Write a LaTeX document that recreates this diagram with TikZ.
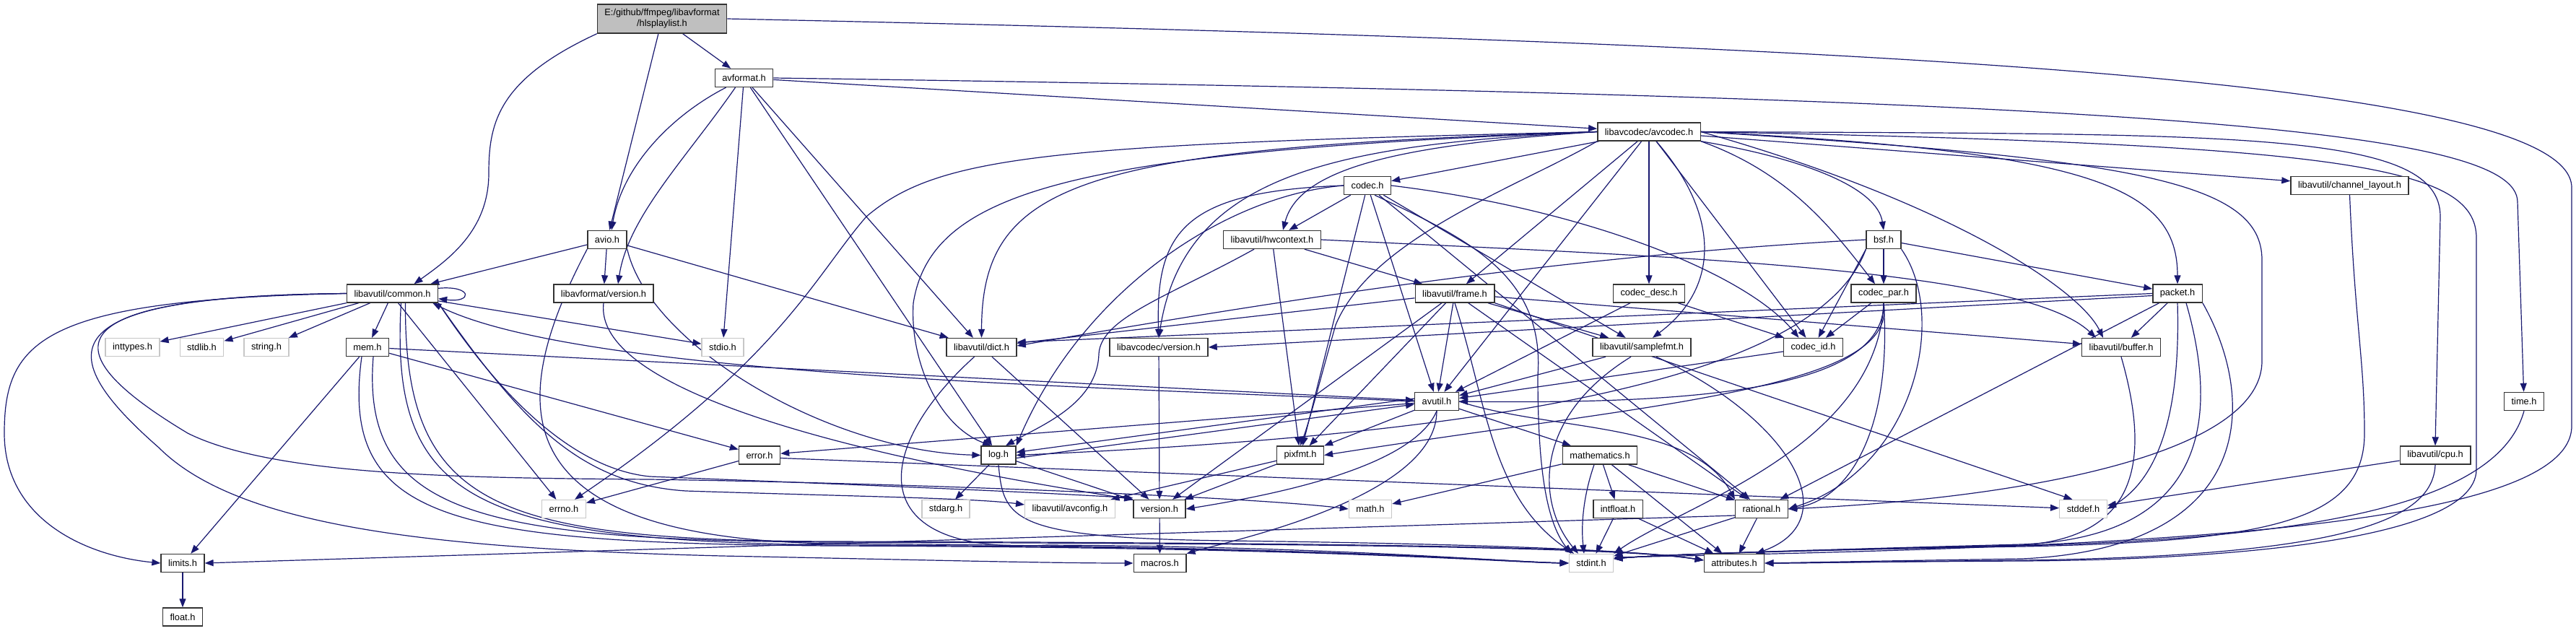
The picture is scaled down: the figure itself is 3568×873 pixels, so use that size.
\documentclass[tikz,border=0pt]{standalone}
\usepackage{fontspec}
\setmainfont{Liberation Sans}
\usetikzlibrary{arrows.meta}
\definecolor{edgec}{RGB}{25,25,112}
\definecolor{rootfill}{RGB}{191,191,191}
\pgfdeclarelayer{bg}
\pgfsetlayers{bg,main}
\begin{document}
\begin{tikzpicture}[x=1pt,y=1pt,
  box/.style={draw=black!80, line width=1.4pt, fill=white, inner xsep=10pt, inner ysep=0pt, minimum height=25pt, font=\fontsize{12.8}{15}\selectfont},
  sysbox/.style={box, draw=black!22},
  edg/.style={draw=edgec, line width=1.2pt, -{Triangle[length=12pt,width=9pt]}},
]
\useasboundingbox (0,0) rectangle (3568,-873);

\node[box, fill=rootfill, minimum height=40pt, align=center] (root) at (917,-26) {E:/github/ffmpeg/libavformat\\/hlsplaylist.h};
\node[box] (avformat) at (1030.5,-108) {avformat.h};
\node[box] (avcodec) at (2284,-182.5) {libavcodec/avcodec.h};
\node[box] (codec) at (1894,-257) {codec.h};
\node[box] (chlayout) at (3254.5,-257) {libavutil/channel\_layout.h};
\node[box] (avio) at (841,-332) {avio.h};
\node[box] (hwctx) at (1762,-332) {libavutil/hwcontext.h};
\node[box] (bsf) at (2609,-332) {bsf.h};
\node[box] (common) at (543.5,-406.5) {libavutil/common.h};
\node[box] (lavfver) at (836,-406.5) {libavformat/version.h};
\node[box] (frame) at (2015,-406.5) {libavutil/frame.h};
\node[box] (codecdesc) at (2284,-406.5) {codec\_desc.h};
\node[box] (codecpar) at (2609,-406.5) {codec\_par.h};
\node[box] (packet) at (3016,-406.5) {packet.h};
\node[sysbox] (inttypes) at (183.5,-481) {inttypes.h};
\node[sysbox] (stdlib) at (279.5,-481) {stdlib.h};
\node[sysbox] (string) at (369,-481) {string.h};
\node[box] (mem) at (509,-481) {mem.h};
\node[sysbox] (stdio) at (1001,-481) {stdio.h};
\node[box] (dict) at (1359.5,-481) {libavutil/dict.h};
\node[box] (lavcver) at (1605,-481) {libavcodec/version.h};
\node[box] (samplefmt) at (2274,-481) {libavutil/samplefmt.h};
\node[box] (codecid) at (2511.5,-481) {codec\_id.h};
\node[box] (buffer) at (2938,-481) {libavutil/buffer.h};
\node[box] (avutil) at (1990,-556) {avutil.h};
\node[box] (time) at (3496,-556) {time.h};
\node[box] (error) at (1052,-630.5) {error.h};
\node[box] (log) at (1383,-630.5) {log.h};
\node[box] (pixfmt) at (1801,-630.5) {pixfmt.h};
\node[box] (mathematics) at (2216,-630.5) {mathematics.h};
\node[box] (cpu) at (3373,-630.5) {libavutil/cpu.h};
\node[sysbox] (errno) at (781,-705) {errno.h};
\node[sysbox] (stdarg) at (1310,-705) {stdarg.h};
\node[sysbox] (avconfig) at (1482,-705) {libavutil/avconfig.h};
\node[box] (version) at (1606,-705) {version.h};
\node[sysbox] (math) at (1898,-705) {math.h};
\node[box] (intfloat) at (2241,-705) {intfloat.h};
\node[box] (rational) at (2440,-705) {rational.h};
\node[sysbox] (stddef) at (2885.5,-705) {stddef.h};
\node[box] (limits) at (253,-780) {limits.h};
\node[box] (macros) at (1606.5,-780) {macros.h};
\node[sysbox] (stdint) at (2204,-780) {stdint.h};
\node[box] (attributes) at (2402,-780) {attributes.h};
\node[box] (float) at (253,-854.5) {float.h};

\begin{pgfonlayer}{bg}
\fill[white] (0,0) rectangle (3568,-873);
% root
\draw[edg] (root) -- (avformat);
\draw[edg] (root) -- (avio);
\draw[edg] (root.south west) .. controls (690,-110) and (677,-170) .. (677,-240) .. controls (677,-320) and (620,-360) .. ([xshift=30pt]common.north);
\draw[edg] (root.east) .. controls (2600,-60) and (3562,-110) .. (3562,-260) -- (3562,-590) .. controls (3562,-740) and (2900,-758) .. ([yshift=8pt]stdint.east);
% avformat
\draw[edg] (avformat) -- (avcodec);
\draw[edg] (avformat.east) .. controls (3000,-135) and (3487,-180) .. (3487,-280) -- (time);
\draw[edg] ([xshift=-25pt]avformat.south) .. controls (930,-160) and (862,-230) .. ([xshift=6pt]avio.north);
\draw[edg] ([xshift=-12pt]avformat.south) .. controls (950,-220) and (870,-300) .. ([xshift=20pt]lavfver.north);
\draw[edg] (avformat) -- (stdio);
\draw[edg] (avformat) -- (dict);
\draw[edg] (avformat) -- (log);
% avio
\draw[edg] (avio) -- (common);
\draw[edg] (avio) -- (lavfver);
\draw[edg] (avio) -- (dict);
\draw[edg] (avio.south east) .. controls (900,-480) and (1150,-625) .. (log.west);
\draw[edg] (avio.south west) .. controls (700,-560) and (690,-745) .. (1150,-753) .. controls (1850,-757) and (2080,-778) .. (stdint.west);
% lavf version
\draw[edg] (lavfver.south) .. controls (820,-560) and (1300,-650) .. (version.north west);
% common
\draw[edg] (common) -- (inttypes);
\draw[edg] (common) -- (stdlib);
\draw[edg] (common) -- (string);
\draw[edg] (common) -- (mem);
\draw[edg] (common) -- (stdio);
\draw[edg] ([xshift=8pt]common.south) -- (errno);
\draw[edg] (common.west) .. controls (60,-415) and (6,-470) .. (6,-600) .. controls (6,-720) and (120,-770) .. (limits.west);
\draw[edg] (common.west) .. controls (80,-410) and (60,-480) .. (220,-620) .. controls (330,-730) and (600,-760) .. (1000,-770) .. controls (1300,-776) and (1450,-780) .. (macros.west);
\draw[edg] (common.west) .. controls (80,-410) and (60,-480) .. (260,-600) .. controls (380,-660) and (650,-662) .. (900,-664) .. controls (1300,-670) and (1750,-690) .. (math.west);
\draw[edg] ([xshift=12pt]common.south) .. controls (540,-690) and (650,-748) .. (1150,-755) .. controls (1850,-757) and (2080,-778) .. (stdint.west);
\draw[edg] ([xshift=18pt]common.south) .. controls (560,-700) and (680,-748) .. (1150,-750) .. controls (1900,-752) and (2250,-758) .. ([yshift=4pt]attributes.west);
\draw[edg] (common.south east) .. controls (700,-560) and (800,-650) .. (900,-660) .. controls (1200,-672) and (1400,-680) .. ([yshift=2pt]version.north west);
\draw[edg] (common.south east) .. controls (720,-580) and (800,-670) .. (950,-680) .. controls (1200,-688) and (1350,-690) .. ([yshift=6pt]avconfig.west);
\draw[edg] ([yshift=-6pt]common.north east) .. controls (655,-395) and (655,-420) .. ([yshift=6pt]common.south east);
% mem
\draw[edg] (mem) -- (limits);
\draw[edg] (mem) -- (error);
\draw[edg] (mem) -- (avutil);
\draw[edg] ([xshift=-8pt]mem.south) .. controls (470,-720) and (620,-752) .. (1150,-756) .. controls (1850,-758) and (2080,-779) .. (stdint.west);
\draw[edg] ([xshift=8pt]mem.south) .. controls (500,-710) and (660,-748) .. (1150,-751) .. controls (1900,-753) and (2250,-759) .. ([yshift=4pt]attributes.west);
% avutil
\draw[edg] (avutil.west) .. controls (1500,-535) and (800,-520) .. ([xshift=-8pt]common.south east);
\draw[edg] (avutil) -- (error);
\draw[edg] ([yshift=4pt]avutil.west) -- ([yshift=4pt]log.east);
\draw[edg] (avutil) -- (pixfmt);
\draw[edg] (avutil) -- (mathematics);
\draw[edg] (avutil.east) .. controls (2150,-598) and (2344,-583) .. (rational.north west);
\draw[edg] (avutil.south) .. controls (1960,-640) and (1800,-680) .. (version.east);
\draw[edg] (avutil.south) .. controls (1990,-690) and (1700,-750) .. (macros.north east);
% log
\draw[edg] ([yshift=-4pt]log.east) -- ([yshift=-4pt]avutil.west);
\draw[edg] (log) -- (stdarg);
\draw[edg] (log) -- (version);
\draw[edg] (log.south) .. controls (1390,-720) and (1400,-745) .. (1700,-749) .. controls (1950,-752) and (2250,-759) .. ([yshift=4pt]attributes.west);
% error
\draw[edg] (error) -- (errno);
\draw[edg] ([yshift=-4pt]error.east) -- (stddef);
% pixfmt
\draw[edg] (pixfmt) -- (avconfig);
\draw[edg] (pixfmt) -- (version);
% mathematics
\draw[edg] (mathematics) -- (math);
\draw[edg] (mathematics) -- (intfloat);
\draw[edg] (mathematics) -- (rational);
\draw[edg] (mathematics) -- (attributes);
\draw[edg] ([xshift=-8pt]mathematics.south) .. controls (2192,-690) and (2190,-730) .. ([xshift=-10pt]stdint.north);
% intfloat, rational
\draw[edg] (intfloat) -- (stdint);
\draw[edg] (intfloat) -- (attributes);
\draw[edg] (rational) -- (stdint);
\draw[edg] (rational) -- (attributes);
\draw[edg] ([yshift=-9pt]rational.west) -- (limits.east);
% version, limits
\draw[edg] (version) -- (macros);
\draw[edg] (limits) -- (float);
% dict, lavc version
\draw[edg] (dict) -- (version);
\draw[edg] ([xshift=-10pt]dict.south) .. controls (1210,-620) and (1190,-770) .. (1450,-755) .. controls (1850,-757) and (2080,-778) .. (stdint.west);
\draw[edg] (lavcver) -- (version);
% samplefmt, codec_id
\draw[edg] (samplefmt) -- (avutil);
\draw[edg] ([xshift=-15pt]samplefmt.south) .. controls (2120,-580) and (2130,-700) .. ([xshift=-18pt]stdint.north);
\draw[edg] ([xshift=20pt]samplefmt.south) .. controls (2480,-580) and (2560,-720) .. ([xshift=30pt]attributes.north);
\draw[edg] (codecid) -- (avutil);
% buffer, time, channel layout, cpu
\draw[edg] (buffer.south) .. controls (2980,-640) and (2960,-745) .. (2800,-755) .. controls (2500,-762) and (2300,-768) .. ([yshift=6pt]stdint.east);
\draw[edg] (time.south) .. controls (3460,-700) and (3200,-745) .. (2800,-756) .. controls (2500,-762) and (2300,-768) .. ([yshift=6pt]stdint.east);
\draw[edg] (chlayout.south) .. controls (3262,-450) and (3275,-500) .. (3275,-600) .. controls (3275,-720) and (3150,-750) .. (2800,-757) .. controls (2500,-762) and (2300,-768) .. ([yshift=6pt]stdint.east);
\draw[edg] (cpu) -- (stddef);
\draw[edg] (cpu.south) .. controls (3370,-720) and (3250,-770) .. (2800,-776) .. controls (2600,-778) and (2500,-780) .. (attributes.east);
% frame
\draw[edg] (frame) -- (avutil);
\draw[edg] (frame) -- (buffer);
\draw[edg] (frame) -- (dict);
\draw[edg] (frame) -- (samplefmt);
\draw[edg] (frame) -- (pixfmt);
\draw[edg] (frame) -- (rational);
\draw[edg] (frame) -- (version);
\draw[edg] (frame.south east) -- ([xshift=-15pt]stddef.north);
\draw[edg] (frame.south) .. controls (2060,-560) and (2065,-690) .. ([xshift=-24pt]stdint.north);
% hwcontext
\draw[edg] (hwctx.east) .. controls (2300,-355) and (2800,-370) .. ([xshift=-35pt]buffer.north);
\draw[edg] (hwctx) -- (frame);
\draw[edg] ([xshift=-25pt]hwctx.south) .. controls (1620,-410) and (1525,-440) .. (1522,-490) .. controls (1520,-560) and (1440,-590) .. ([xshift=10pt]log.north);
\draw[edg] (hwctx) -- (pixfmt);
% codec_desc
\draw[edg] (codecdesc) -- (avutil);
\draw[edg] (codecdesc) -- (codecid);
% codec_par
\draw[edg] (codecpar) -- (codecid);
\draw[edg] (codecpar.south) .. controls (2610,-540) and (2350,-560) .. (avutil.east);
\draw[edg] (codecpar.south) .. controls (2620,-580) and (2570,-690) .. (rational.east);
\draw[edg] (codecpar.south) .. controls (2630,-540) and (2280,-560) .. (pixfmt.east);
\draw[edg] (codecpar.south) .. controls (2600,-620) and (2330,-700) .. (stdint.north east);
% packet
\draw[edg] (packet.west) -- ([yshift=7pt]dict.east);
\draw[edg] ([yshift=-3pt]packet.west) -- (lavcver.east);
\draw[edg] (packet) -- (buffer);
\draw[edg] (packet) -- (rational);
\draw[edg] (packet.south) .. controls (3020,-560) and (2995,-660) .. (stddef.east);
\draw[edg] ([xshift=12pt]packet.south) .. controls (3080,-600) and (3040,-745) .. (2800,-754) .. controls (2500,-762) and (2300,-768) .. ([yshift=6pt]stdint.east);
\draw[edg] (packet.south east) .. controls (3130,-560) and (3120,-760) .. (2800,-774) .. controls (2600,-777) and (2500,-779) .. (attributes.east);
% bsf
\draw[edg] (bsf) -- (codecpar);
\draw[edg] (bsf) -- (packet);
\draw[edg] (bsf.south west) -- (codecid);
\draw[edg] (bsf.west) .. controls (2150,-355) and (1750,-420) .. ([yshift=2pt]dict.east);
\draw[edg] (bsf.south west) .. controls (2520,-520) and (2100,-600) .. (log.east);
\draw[edg] (bsf.south east) .. controls (2700,-440) and (2650,-650) .. (rational.east);
% codec.h
\draw[edg] (codec) -- (hwctx);
\draw[edg] (codec.west) .. controls (1700,-270) and (1500,-400) .. (log.north east);
\draw[edg] (codec) -- (pixfmt);
\draw[edg] (codec) -- (avutil);
\draw[edg] (codec.west) .. controls (1640,-265) and (1600,-320) .. (lavcver.north);
\draw[edg] (codec) -- (rational);
\draw[edg] (codec) -- (samplefmt);
\draw[edg] (codec.east) .. controls (2200,-290) and (2420,-380) .. ([xshift=-20pt]codecid.north);
\draw[edg] ([xshift=10pt]codec.south) .. controls (2030,-330) and (2140,-380) .. (2130,-520) .. controls (2130,-640) and (2140,-720) .. ([xshift=-28pt]stdint.north);
% avcodec
\draw[edg] (avcodec) -- (codec);
\draw[edg] (avcodec) -- (frame);
\draw[edg] (avcodec) -- (codecdesc);
\draw[edg] (avcodec.south east) .. controls (2500,-220) and (2600,-260) .. (bsf.north);
\draw[edg] (avcodec.south east) .. controls (2480,-240) and (2540,-320) .. ([xshift=-12pt]codecpar.north);
\draw[edg] (avcodec) -- (codecid);
\draw[edg] (avcodec.east) .. controls (2900,-210) and (3016,-260) .. (packet.north);
\draw[edg] (avcodec) -- (chlayout);
\draw[edg] (avcodec.east) .. controls (3100,-186) and (3380,-180) .. (3380,-300) -- (cpu.north);
\draw[edg] (avcodec.east) .. controls (3250,-200) and (3430,-230) .. (3430,-330) -- (3430,-650) .. controls (3430,-760) and (3000,-776) .. (2800,-777) .. controls (2600,-778) and (2500,-780) .. (attributes.east);
\draw[edg] (avcodec.east) .. controls (2950,-220) and (3133,-250) .. (3133,-360) -- (3133,-500) .. controls (3133,-630) and (2800,-690) .. (rational.east);
\draw[edg] (avcodec.east) .. controls (2700,-280) and (2880,-400) .. ([xshift=-25pt]buffer.north);
\draw[edg] ([xshift=10pt]avcodec.south) .. controls (2385,-300) and (2380,-400) .. ([xshift=15pt]samplefmt.north);
\draw[edg] (avcodec) -- (avutil);
\draw[edg] (avcodec.west) .. controls (1850,-200) and (1640,-240) .. (lavcver.north);
\draw[edg] (avcodec.west) .. controls (1950,-200) and (1800,-230) .. ([xshift=15pt]hwctx.north);
\draw[edg] (avcodec.west) .. controls (1500,-205) and (1360,-250) .. (dict.north);
\draw[edg] (avcodec.west) .. controls (1500,-210) and (1290,-260) .. (1265,-420) .. controls (1260,-500) and (1300,-590) .. ([xshift=-10pt]log.north);
\draw[edg] (avcodec.west) .. controls (1450,-200) and (1300,-215) .. (1200,-300) .. controls (1130,-380) and (1080,-500) .. ([xshift=15pt]errno.north);
\draw[edg] (avcodec.south west) .. controls (2100,-260) and (1900,-330) .. (1850,-450) .. controls (1830,-520) and (1815,-580) .. (pixfmt.north);
\end{pgfonlayer}
\end{tikzpicture}
\end{document}
